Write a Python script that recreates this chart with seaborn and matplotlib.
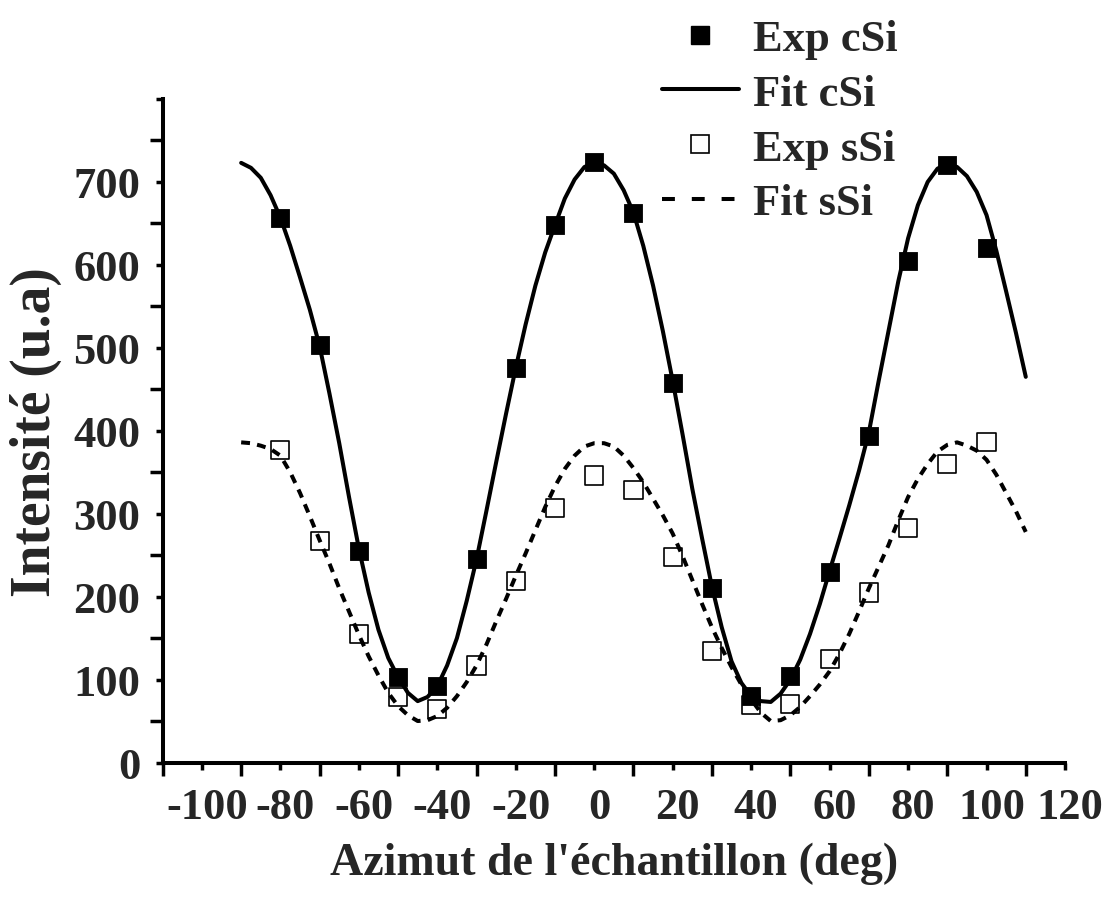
import numpy as np
import pandas as pd
import matplotlib
matplotlib.use("Agg")
import matplotlib.pyplot as plt
import seaborn as sns
from matplotlib.lines import Line2D
from matplotlib.legend_handler import HandlerLine2D
from matplotlib.transforms import ScaledTranslation

# ---------------- data ----------------
angles_exp = [-80, -70, -60, -50, -40, -30, -20, -10, 0, 10,
              20, 30, 40, 50, 60, 70, 80, 90, 100]
exp_csi = [657, 503, 255, 103, 92, 245, 476, 648, 724, 663,
           458, 211, 80, 104, 230, 394, 605, 720, 620]
exp_ssi = [377, 267, 155, 79, 65, 117, 219, 307, 346, 329,
           248, 134, 69, 70, 125, 205, 283, 360, 386]

# fitted curves, read every 2.5 degrees from -90 to 110
angles_fit = [-90.0, -87.5, -85.0, -82.5, -80.0, -77.5, -75.0, -72.5, -70.0, -67.5,
              -65.0, -62.5, -60.0, -57.5, -55.0, -52.5, -50.0, -47.5, -45.0, -42.5,
              -40.0, -37.5, -35.0, -32.5, -30.0, -27.5, -25.0, -22.5, -20.0, -17.5,
              -15.0, -12.5, -10.0, -7.5, -5.0, -2.5, 0.0, 2.5, 5.0, 7.5,
              10.0, 12.5, 15.0, 17.5, 20.0, 22.5, 25.0, 27.5, 30.0, 32.5,
              35.0, 37.5, 40.0, 42.5, 45.0, 47.5, 50.0, 52.5, 55.0, 57.5,
              60.0, 62.5, 65.0, 67.5, 70.0, 72.5, 75.0, 77.5, 80.0, 82.5,
              85.0, 87.5, 90.0, 92.5, 95.0, 97.5, 100.0, 102.5, 105.0, 107.5,
              110.0]
fit_csi = [723, 717, 705, 684, 657, 623, 585, 546, 502, 445,
           385, 320, 258, 205, 160, 126, 103, 84, 74, 79,
           92, 117, 150, 195, 245, 303, 362, 420, 476, 528,
           575, 615, 648, 680, 703, 718, 723, 720, 710, 690,
           663, 623, 575, 520, 460, 396, 330, 270, 212, 163,
           122, 96, 80, 74, 73, 83, 100, 124, 155, 191,
           231, 270, 310, 352, 398, 460, 520, 580, 632, 672,
           700, 716, 722, 718, 707, 688, 660, 617, 568, 518,
           465]
fit_ssi = [386, 385, 382, 378, 370, 350, 325, 297, 268, 240,
           210, 182, 154, 128, 105, 84, 68, 57, 50, 51,
           56, 66, 80, 97, 117, 142, 170, 197, 225, 252,
           280, 308, 333, 354, 370, 381, 385, 385, 381, 370,
           355, 338, 318, 298, 276, 249, 220, 191, 163, 138,
           115, 94, 76, 60, 50, 51, 57, 67, 80, 94,
           110, 131, 155, 182, 210, 236, 262, 292, 320, 342,
           360, 375, 383, 386, 382, 376, 365, 347, 325, 303,
           278]

xticks_major = list(range(-100, 121, 20))
xticks_minor = list(range(-110, 111, 20))
yticks_major = list(range(0, 801, 100))
ytick_labels = [str(v) for v in range(0, 701, 100)] + [""]
yticks_minor = list(range(50, 751, 100))

legend_labels = ["Exp cSi", "Fit cSi", "Exp sSi", "Fit sSi"]

# ---------------- style ----------------
sns.set_style("ticks")
plt.rcParams["font.family"] = ["Liberation Serif", "DejaVu Serif"]
plt.rcParams["font.weight"] = "bold"
plt.rcParams["axes.labelweight"] = "bold"

W, H = 1112, 904
fig = plt.figure(figsize=(W / 100, H / 100), dpi=100)
ax = fig.add_axes([162.7 / W, 1 - 763.5 / H, (1065 - 162.7) / W, (763.5 - 100) / H])

df_exp = pd.DataFrame({"angle": angles_exp, "csi": exp_csi, "ssi": exp_ssi})
df_fit = pd.DataFrame({"angle": angles_fit, "csi": fit_csi, "ssi": fit_ssi})

LW = 2.9
DASH = (2.2, 1.8)

sns.lineplot(data=df_fit, x="angle", y="csi", ax=ax, color="black",
             linewidth=LW, zorder=2)
sns.lineplot(data=df_fit, x="angle", y="ssi", ax=ax, color="black",
             linewidth=LW, linestyle=(0, DASH), zorder=2)
for ln in ax.lines:
    ln.set_solid_joinstyle("round")
    ln.set_dash_joinstyle("round")
sns.scatterplot(data=df_exp, x="angle", y="csi", ax=ax, marker="s", s=185,
                color="black", edgecolor="black", linewidth=0.6, zorder=3)
sns.scatterplot(data=df_exp, x="angle", y="ssi", ax=ax, marker="s", s=170,
                color="black", linewidth=1.2, zorder=3)
ax.collections[-1].set_facecolor("none")
ax.collections[-1].set_edgecolor("black")

ax.set_xlim(-110, 120)
ax.set_ylim(0, 800)

ax.set_xticks(xticks_major)
ax.set_xticklabels([str(v) for v in xticks_major])
ax.set_xticks(xticks_minor, minor=True)
ax.set_yticks(yticks_major)
ax.set_yticklabels(ytick_labels)
ax.set_yticks(yticks_minor, minor=True)

for sp in ["top", "right"]:
    ax.spines[sp].set_visible(False)
for sp in ["left", "bottom"]:
    ax.spines[sp].set_linewidth(2.9)
    ax.spines[sp].set_color("black")

ax.tick_params(axis="both", which="major", length=5, width=2.5, color="black",
               labelsize=32, direction="out")
ax.tick_params(axis="both", which="minor", length=9.5, width=2.5, color="black",
               direction="out")
ax.tick_params(axis="x", which="major", pad=13)
ax.tick_params(axis="y", which="major", pad=11)
for lab in ax.get_xticklabels() + ax.get_yticklabels():
    lab.set_fontweight("bold")

off = ScaledTranslation(5 / 100, 0, fig.dpi_scale_trans)
for lab in ax.get_xticklabels():
    lab.set_transform(lab.get_transform() + off)

ax.set_xlabel("Azimut de l'échantillon (deg)", fontsize=33, fontweight="bold",
              labelpad=10)
ax.set_ylabel("Intensité (u.a)", fontsize=40, fontweight="bold", labelpad=8)

# ---------------- legend ----------------
class RightMarker(HandlerLine2D):
    def get_xdata(self, legend, xdescent, ydescent, width, height, fontsize):
        xdata, _ = super().get_xdata(legend, xdescent, ydescent, width,
                                     height, fontsize)
        return xdata, np.array([-xdescent + 0.87 * width])

h_exp_c = Line2D([], [], linestyle="none", marker="s", markersize=13.5,
                 markerfacecolor="black", markeredgecolor="black")
h_fit_c = Line2D([], [], color="black", linewidth=LW)
h_exp_s = Line2D([], [], linestyle="none", marker="s", markersize=12.5,
                 markerfacecolor="none", markeredgecolor="black",
                 markeredgewidth=1.2)
h_fit_s = Line2D([], [], color="black", linewidth=LW, linestyle=(0, (3.2, 4.2)))

leg = ax.legend([h_exp_c, h_fit_c, h_exp_s, h_fit_s], legend_labels,
                loc="upper left", bbox_to_anchor=(662 / W, 1 - 20 / H),
                bbox_transform=fig.transFigure, frameon=False,
                borderpad=0, borderaxespad=0, handlelength=1.73,
                handletextpad=0.32, labelspacing=0.33,
                prop={"size": 32, "weight": "bold"},
                handler_map={h_exp_c: RightMarker(), h_exp_s: RightMarker()})

fig.savefig("out.png", dpi=100, facecolor="white")
